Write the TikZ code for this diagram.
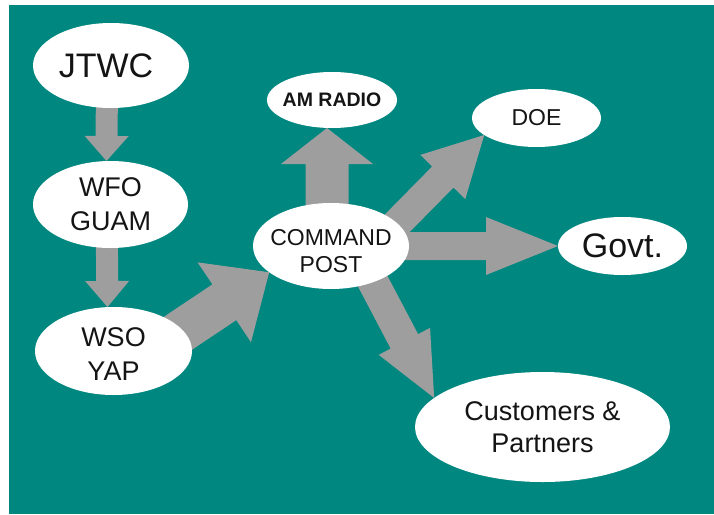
\documentclass[tikz,border=0pt]{standalone}
\usepackage{fontspec}
\setmainfont{Liberation Sans}
\usetikzlibrary{calc,shapes.geometric}
\pgfdeclarelayer{bg}
\pgfdeclarelayer{arr}
\pgfsetlayers{bg,arr,main}
\definecolor{teal}{RGB}{0,135,128}
\definecolor{arrgray}{RGB}{158,158,158}
\definecolor{txtc}{RGB}{20,20,20}
\tikzset{
  ell/.style={ellipse, fill=white, draw=none, inner sep=0pt, outer sep=0pt},
  txt/.style={text=txtc, align=center, inner sep=0pt},
  arrowfill/.style={fill=arrgray, draw=none},
}
% #1 start, #2 tip, #3 half shaft width, #4 half head width, #5 head length
\newcommand\fatarrow[5]{%
  \path ($(#2)!#5!(#1)$) coordinate (hb);
  \fill[arrowfill] ($(#1)!#3!90:(#2)$) -- ($(hb)!#3!-90:(#1)$) -- ($(hb)!#4!-90:(#1)$)
    -- (#2) -- ($(hb)!#4!90:(#1)$) -- ($(hb)!#3!90:(#1)$) -- ($(#1)!#3!-90:(#2)$) -- cycle;
}
\begin{document}
\begin{tikzpicture}[x=1pt,y=-1pt]
\useasboundingbox (0,0) rectangle (714,514);
% nodes
\node[ell, minimum width=156pt, minimum height=85pt] (jtwc) at (111,65.5) {};
\node[ell, minimum width=155pt, minimum height=87pt] (wfo) at (110.5,204.5) {};
\node[ell, minimum width=157pt, minimum height=88pt] (wso) at (113.5,351) {};
\node[ell, minimum width=156pt, minimum height=86pt] (cp) at (331,246) {};
\node[ell, minimum width=130pt, minimum height=56pt] (am) at (332,100) {};
\node[ell, minimum width=129pt, minimum height=58pt] (doe) at (536.5,118) {};
\node[ell, minimum width=129pt, minimum height=58pt] (govt) at (622.5,246) {};
\node[ell, minimum width=255pt, minimum height=110pt] (cust) at (542.5,427) {};
% texts
\node[txt, font=\fontsize{34}{40}\selectfont] (jtwc-t) at ([xshift=-5pt]jtwc.center) {JTWC};
\node[txt, font=\fontsize{27}{34}\selectfont] (wfo-t) at (wfo.center) {WFO\\GUAM};
\node[txt, font=\fontsize{27}{34}\selectfont] (wso-t) at ([yshift=-3pt]wso.center) {WSO\\YAP};
\node[txt, font=\fontsize{23}{27}\selectfont] (cp-t) at ([yshift=-5pt]cp.center) {COMMAND\\POST};
\node[txt, font=\bfseries\fontsize{19.5}{23}\selectfont] (am-t) at (am.center) {AM RADIO};
\node[txt, font=\fontsize{23}{28}\selectfont] (doe-t) at (doe.center) {DOE};
\node[txt, font=\fontsize{34}{40}\selectfont] (govt-t) at (govt.center) {Govt.};
\node[txt, font=\fontsize{27}{32}\selectfont] (cust-t) at (cust.center) {Customers \&\\Partners};
% background
\begin{pgfonlayer}{bg}
  \fill[white] (0,0) rectangle (714,514);
  \fill[teal] (9,5) rectangle (714,514);
\end{pgfonlayer}
% arrows
\begin{pgfonlayer}{arr}
  \fatarrow{[xshift=-4pt]jtwc.center}{[xshift=-4pt]wfo.north}{11pt}{22pt}{25pt}
  \fatarrow{[xshift=-4pt]wfo.center}{[xshift=-6pt]wso.north}{11pt}{22pt}{26pt}
  \fatarrow{[xshift=29pt,yshift=-6pt]wso.center}{cp.203}{21.5pt}{48pt}{54pt}
  \fatarrow{[xshift=-4pt]cp.center}{[xshift=-5pt]am.south}{21.5pt}{46pt}{36pt}
  \fatarrow{[xshift=35pt,yshift=-9pt]cp.center}{doe.198}{15pt}{31.5pt}{59pt}
  \fatarrow{cp.center}{govt.west}{14pt}{29pt}{72pt}
  \fatarrow{[xshift=37.6pt,yshift=-27.4pt]cp.center}{cust.165}{15.5pt}{29pt}{64pt}
\end{pgfonlayer}
\end{tikzpicture}
\end{document}
